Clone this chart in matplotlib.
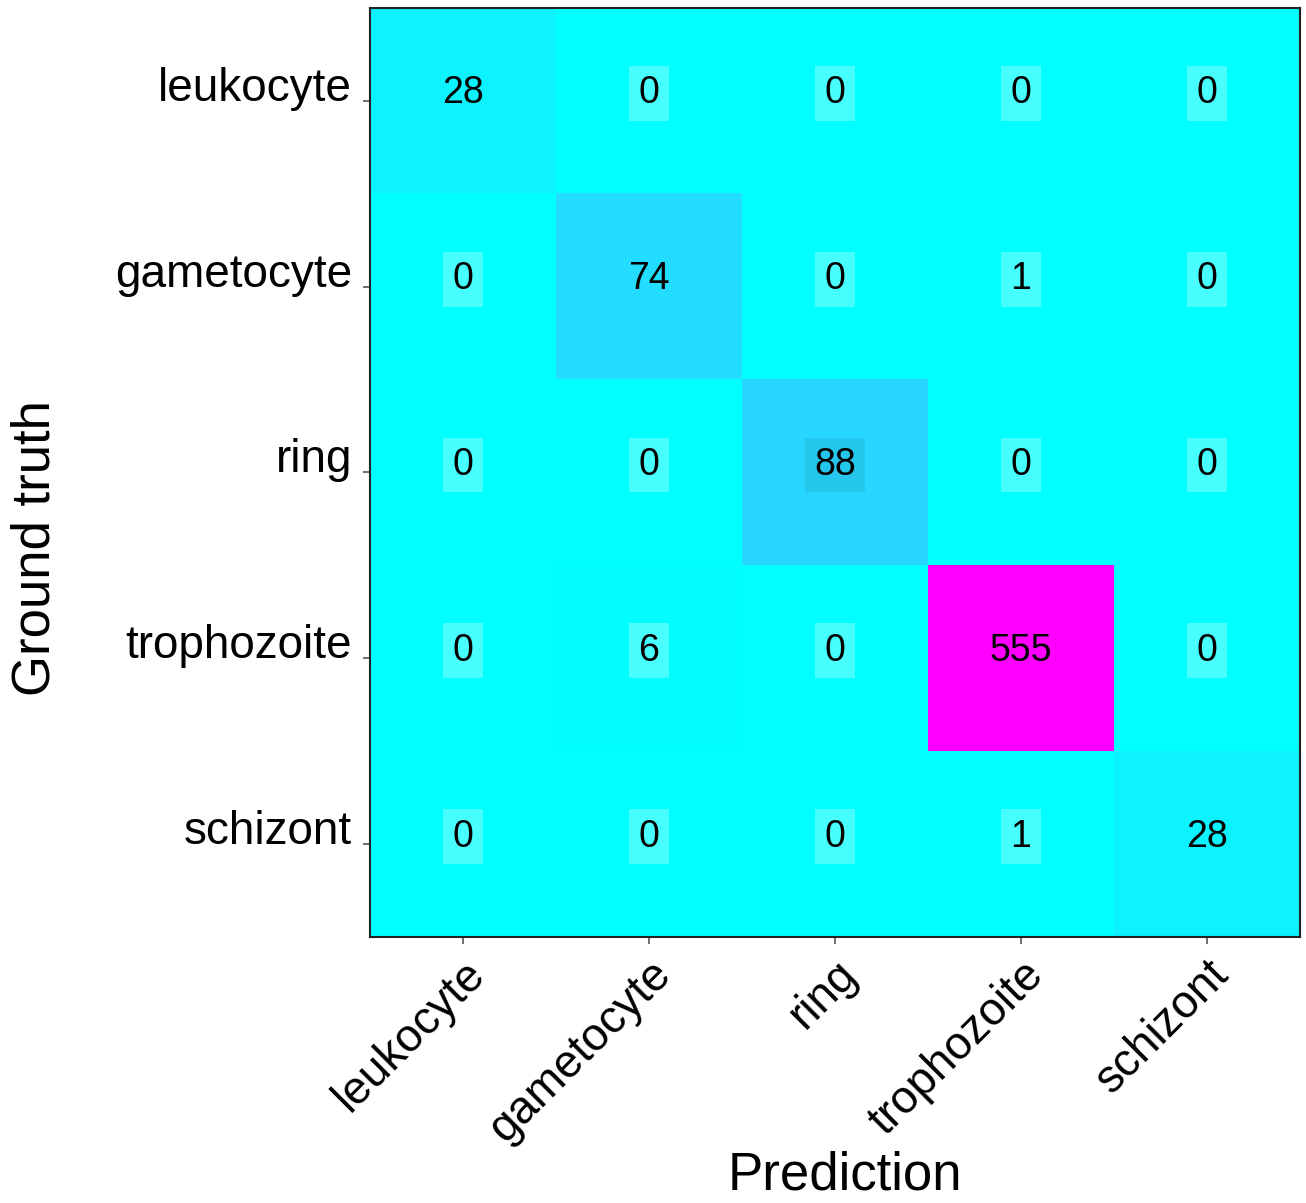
import numpy as np
import matplotlib
matplotlib.use("Agg")
import matplotlib.pyplot as plt

classes = ["leukocyte", "gametocyte", "ring", "trophozoite", "schizont"]
matrix = [
    [28, 0, 0, 0, 0],
    [0, 74, 0, 1, 0],
    [0, 0, 88, 0, 0],
    [0, 6, 0, 555, 0],
    [0, 0, 0, 1, 28],
]
x_label = "Prediction"
y_label = "Ground truth"

plt.rcParams["font.family"] = ["Liberation Sans", "DejaVu Sans"]

data = np.array(matrix)
fig = plt.figure(figsize=(13.06, 12.03), dpi=100)
ax = fig.add_axes([370 / 1306, 1 - 937 / 1203, 930 / 1306, 929 / 1203])
cmap = plt.get_cmap("cool")
norm = matplotlib.colors.Normalize(vmin=0, vmax=data.max())
ax.imshow(data, cmap=cmap, norm=norm, aspect="auto", interpolation="nearest")

for i in range(data.shape[0]):
    for j in range(data.shape[1]):
        v = data[i, j]
        c = np.array(cmap(norm(v))[:3])
        if v < 10:
            box = c * 0.72 + 0.28
        elif 80 < v < 100:
            box = c * 0.92
        else:
            box = c
        ax.text(j, i - 0.04, str(v), ha="center", va="center", fontsize=27, color="black",
                bbox=dict(boxstyle="square,pad=0.25", facecolor=tuple(box), edgecolor="none"))

ax.set_xticks(range(len(classes)))
ax.set_yticks(range(len(classes)))
ax.set_xticklabels(classes, rotation=45, ha="right", rotation_mode="anchor", fontsize=33)
ax.set_yticklabels(classes, fontsize=33, va="baseline")
ax.tick_params(axis="both", length=5, width=1.2, color="#555555", pad=8)
ax.tick_params(axis="x", pad=6)
for s in ax.spines.values():
    s.set_linewidth(1.5)
    s.set_color("#222222")
fig.text(845 / 1306, 1 - 1176 / 1203, x_label, fontsize=38, ha="center", va="center")
fig.text(36 / 1306, 1 - 548 / 1203, y_label, fontsize=38, ha="center", va="center",
         rotation=90)

fig.savefig("out.png", dpi=100)
